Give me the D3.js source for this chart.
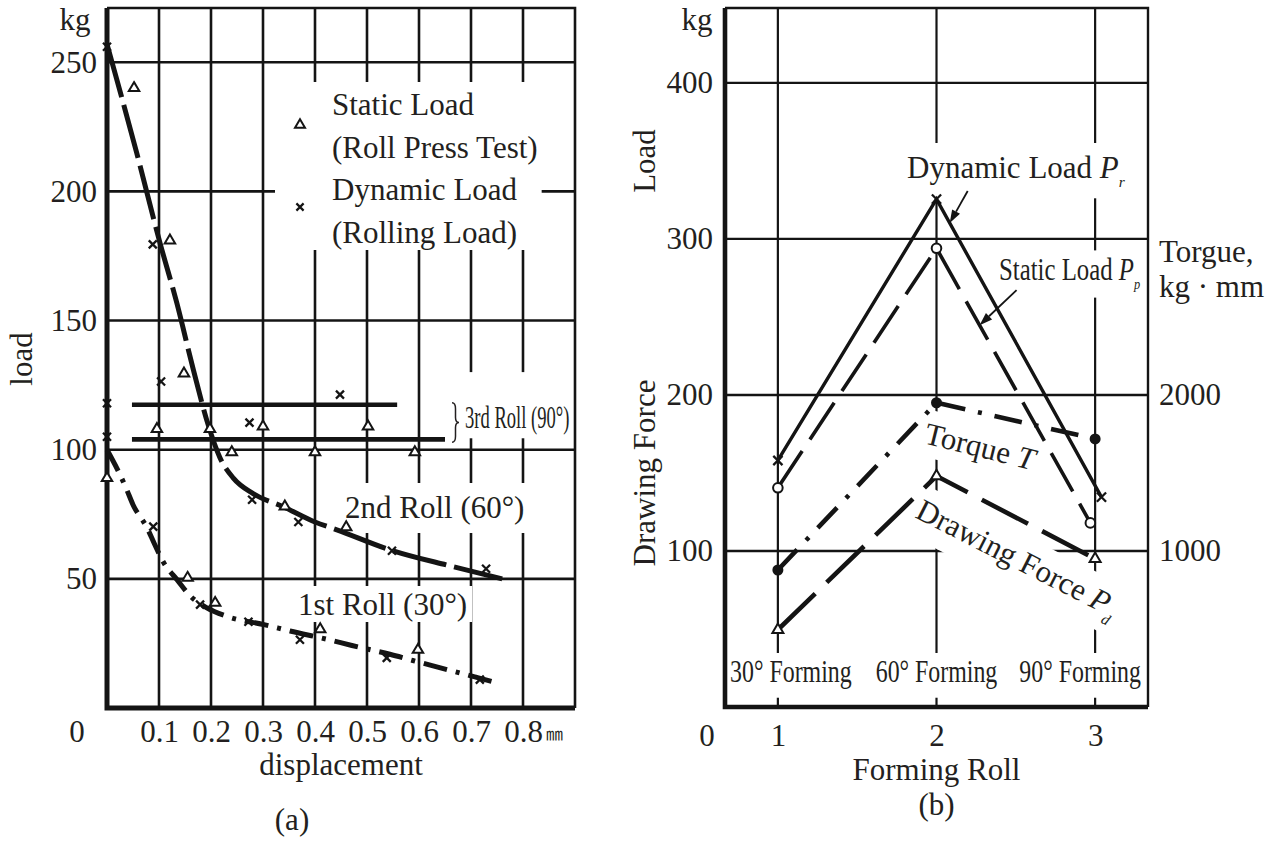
<!DOCTYPE html>
<html><head><meta charset="utf-8">
<script src="https://cdn.jsdelivr.net/npm/d3@7"></script>
<style>
html,body{margin:0;padding:0;background:#fff;}
svg{display:block;}
text{font-family:"Liberation Serif","Times New Roman",serif;fill:#231f20;}
</style></head><body>
<svg id="chart" width="1285" height="845"></svg>
<script>
// ================= DATA : chart (a) =================
const aXTicks = [0.1, 0.2, 0.3, 0.4, 0.5, 0.6, 0.7, 0.8];
const aYTicks = [50, 100, 150, 200, 250];
const aStaticX = [0, 0.052, 0.121, 0.148, 0.096, 0.198, 0.3, 0.24, 0.4, 0.342, 0.155, 0.502, 0.592, 0.46, 0.208, 0.41, 0.598];
const aStaticY = [89, 240, 181, 129.5, 108, 108, 109, 99, 99, 78, 50.4, 109, 99, 70, 40.7, 30.5, 22.5];
const aDynamicX = [0, 0.088, 0.104, 0, 0, 0.274, 0.448, 0.279, 0.368, 0.089, 0.548, 0.729, 0.179, 0.272, 0.371, 0.538, 0.717];
const aDynamicY = [256, 179.5, 126.4, 118, 105, 110.5, 121.3, 80.6, 72, 70.2, 60.9, 53.9, 40, 33.4, 26.4, 19.4, 11];
const aRoll2X = [0, 0.057, 0.102, 0.134, 0.166, 0.194, 0.217, 0.243, 0.281, 0.338, 0.4, 0.442, 0.548, 0.66, 0.76];
const aRoll2Y = [257, 215, 180, 157, 131, 110, 97, 89, 83, 78, 72, 69, 61, 55, 50];
const aRoll1X = [0, 0.021, 0.037, 0.05, 0.077, 0.092, 0.108, 0.135, 0.16, 0.192, 0.233, 0.304, 0.352, 0.425, 0.471, 0.544, 0.588, 0.627, 0.68, 0.755];
const aRoll1Y = [100, 92, 85, 78.7, 69.8, 63.2, 56.6, 49.6, 43.4, 38.8, 35.3, 32.2, 29.8, 26.5, 24.2, 20.8, 18.4, 16.3, 13.5, 9.5];
const aRoll3Y = [117.4, 104];
const aRoll3Start = [0.048, 0.048];
const aRoll3End = [0.558, 0.65];
const aLegend = [["Static Load", "(Roll Press Test)"], ["Dynamic Load", "(Rolling Load)"]];

// ================= DATA : chart (b) =================
const bRolls = [1, 2, 3];
const bYTicks = [100, 200, 300, 400];
const bTorqueTicks = [1000, 2000];
const bFormingLabels = ["30° Forming", "60° Forming", "90° Forming"];
const bDynamicX = [1, 2, 3.04];
const bDynamic = [158, 325.5, 134.5];
const bStaticX = [1, 2, 2.97];
const bStatic = [140.5, 294, 118];
const bTorque = [878, 1950, 1718];
const bDrawing = [49.5, 148, 95];

// ================= helpers =================
const INK = "#141414";
const TXT = "#231f20";
const FS = 31;
const svg = d3.select("#chart");

function layers(parent) {
  return {
    grid: parent.append("g"), knock: parent.append("g"), frame: parent.append("g"),
    data: parent.append("g"), marks: parent.append("g"), text: parent.append("g")
  };
}
function label(L, o) {
  const sx = o.sx || 1, rot = o.rotate || 0, size = o.size || FS;
  const tf = `translate(${o.x},${o.y}) rotate(${rot}) scale(${sx},1)`;
  const g = L.text.append("g").attr("transform", tf);
  const t = g.append("text").attr("text-anchor", o.anchor || "start").attr("font-size", size);
  if (o.family) t.style("font-family", o.family);
  o.parts.forEach(p => {
    const s = t.append("tspan").text(p.t);
    if (p.italic) s.attr("font-style", "italic");
    if (p.sub) s.attr("font-size", size * 0.5).attr("dy", size * 0.3);
  });
  if (o.pad) {
    const b = t.node().getBBox();
    const [pt, pr, pb, pl] = o.pad;
    L.knock.append("rect").attr("transform", tf)
      .attr("x", b.x - pl / sx).attr("y", b.y - pt)
      .attr("width", b.width + (pl + pr) / sx).attr("height", b.height + pt + pb)
      .attr("fill", "#fff");
  }
  return t;
}
const triPath = (w) => { const h = w * 0.85; return `M0,${-h * 2 / 3}L${w / 2},${h / 3}L${-w / 2},${h / 3}Z`; };
const crossPath = (r) => `M${-r},${-r}L${r},${r}M${-r},${r}L${r},${-r}`;
function styleAxis(g) {
  g.select(".domain").remove();
  g.selectAll(".tick line").remove();
  g.selectAll("text").attr("font-size", FS).attr("fill", TXT);
}
function arrow(layer, tip, tail) {
  const dx = tip[0] - tail[0], dy = tip[1] - tail[1];
  const len = Math.hypot(dx, dy), ux = dx / len, uy = dy / len;
  const L = 13, Wd = 4.5;
  const bx0 = tip[0] - ux * L, by0 = tip[1] - uy * L;
  layer.append("line").attr("x1", tail[0]).attr("y1", tail[1]).attr("x2", bx0).attr("y2", by0)
    .attr("stroke", INK).attr("stroke-width", 1.8);
  layer.append("path").attr("d", `M${tip[0]},${tip[1]}L${bx0 - uy * Wd},${by0 + ux * Wd}L${bx0 + uy * Wd},${by0 - ux * Wd}Z`)
    .attr("fill", INK);
}

// ================= chart (a) =================
const ax = d3.scaleLinear().domain([0, 0.9]).range([107, 575]);
const ay = d3.scaleLinear().domain([0, 271]).range([708, 8]);
const A = layers(svg.append("g"));
const [aTop, aBot] = [ay.range()[1], ay.range()[0]];
const [aL, aR] = ax.range();

A.grid.selectAll("line.v").data(aXTicks).join("line")
  .attr("x1", d => ax(d)).attr("x2", d => ax(d)).attr("y1", aTop).attr("y2", aBot)
  .attr("stroke", INK).attr("stroke-width", 2.6);
A.grid.selectAll("line.h").data(aYTicks).join("line")
  .attr("x1", aL).attr("x2", aR).attr("y1", d => ay(d)).attr("y2", d => ay(d))
  .attr("stroke", INK).attr("stroke-width", 2.6);
A.frame.append("path").attr("d", `M${aL},${aTop}H${aR}V${aBot}`)
  .attr("fill", "none").attr("stroke", INK).attr("stroke-width", 2.6);
A.frame.append("path").attr("d", `M${aL},${aTop}V${aBot}H${aR}`)
  .attr("fill", "none").attr("stroke", INK).attr("stroke-width", 5);

// axes tick labels
A.text.append("g").attr("transform", `translate(${aL},0)`)
  .call(d3.axisLeft(ay).tickValues(aYTicks).tickSize(0).tickPadding(10).tickFormat(d3.format("d"))).call(styleAxis);
A.text.append("g").attr("transform", `translate(0,${aBot})`)
  .call(d3.axisBottom(ax).tickValues(aXTicks).tickSize(0).tickPadding(12).tickFormat(d3.format(".1f"))).call(styleAxis);
label(A, { x: 77, y: 742, anchor: "middle", parts: [{ t: "0" }] });
label(A, { x: ax(0.8) + 23, y: 740, size: 17, family: "'Noto Sans CJK JP'", parts: [{ t: "㎜" }] });
label(A, { x: 75, y: 30, anchor: "middle", parts: [{ t: "kg" }] });
label(A, { x: 32, y: 359, rotate: -90, anchor: "middle", parts: [{ t: "load" }] });
label(A, { x: (aL + aR) / 2, y: 775, anchor: "middle", parts: [{ t: "displacement" }] });
label(A, { x: 292, y: 830, anchor: "middle", parts: [{ t: "(a)" }] });

// legend
const legX = 300, legTextX = 332, legBase = [115, 200], legLine = 43;
const legG = A.text.append("g");
aLegend.forEach((lines, i) => {
  lines.forEach((s, j) => legG.append("text").attr("x", legTextX).attr("y", legBase[i] + j * legLine)
    .attr("font-size", FS).text(s));
});
legG.append("path").attr("transform", `translate(${legX},${legBase[0] + 10})`).attr("d", triPath(10))
  .attr("fill", "#fff").attr("stroke", INK).attr("stroke-width", 2);
legG.append("path").attr("transform", `translate(${legX},${legBase[1] + 7})`).attr("d", crossPath(3.6))
  .attr("fill", "none").attr("stroke", INK).attr("stroke-width", 2.2);
{
  const b = legG.node().getBBox();
  A.knock.append("rect").attr("x", b.x - 20).attr("y", b.y - 5).attr("width", b.width + 24).attr("height", b.height + 5).attr("fill", "#fff");
}

// curve labels
label(A, { x: 345, y: 518, parts: [{ t: "2nd Roll (60°)" }], pad: [7, 5, 8, 5] });
label(A, { x: 298, y: 615, parts: [{ t: "1st Roll (30°)" }], pad: [1, 5, 0, 5] });
const braceX = ax(d3.max(aRoll3End)) + 7;
label(A, { x: braceX + 13, y: 428, sx: 0.6, parts: [{ t: "3rd Roll (90°)" }], pad: [28, 2, 3, 22] });
{
  const y0 = ay(aRoll3Y[0]) - 2, y1 = ay(aRoll3Y[1]) + 3, ym = (y0 + y1) / 2, x = braceX, w = 3.5;
  A.text.append("path").attr("d",
    `M${x},${y0}Q${x + w},${y0} ${x + w},${y0 + 6}L${x + w},${ym - 5}Q${x + w},${ym} ${x + 2 * w},${ym}Q${x + w},${ym} ${x + w},${ym + 5}L${x + w},${y1 - 6}Q${x + w},${y1} ${x},${y1}`)
    .attr("fill", "none").attr("stroke", TXT).attr("stroke-width", 1.5);
}

// data curves
const lineA = d3.line().x(d => ax(d[0])).y(d => ay(d[1])).curve(d3.curveMonotoneX);
A.data.append("path").datum(d3.zip(aRoll2X, aRoll2Y)).attr("d", lineA)
  .attr("fill", "none").attr("stroke", INK).attr("stroke-width", 5).attr("stroke-dasharray", "55,8");
A.data.append("path").datum(d3.zip(aRoll1X, aRoll1Y)).attr("d", lineA)
  .attr("fill", "none").attr("stroke", INK).attr("stroke-width", 5).attr("stroke-dasharray", "24,9,4,9");
A.data.selectAll("line.r3").data(aRoll3Y).join("line")
  .attr("x1", (d, i) => ax(aRoll3Start[i])).attr("x2", (d, i) => ax(aRoll3End[i]))
  .attr("y1", d => ay(d)).attr("y2", d => ay(d))
  .attr("stroke", INK).attr("stroke-width", 4.6);

// markers
A.marks.selectAll("path.st").data(d3.zip(aStaticX, aStaticY)).join("path")
  .attr("transform", d => `translate(${ax(d[0])},${ay(d[1])})`).attr("d", triPath(10.5))
  .attr("fill", "#fff").attr("stroke", INK).attr("stroke-width", 2);
A.marks.selectAll("path.dy").data(d3.zip(aDynamicX, aDynamicY)).join("path")
  .attr("transform", d => `translate(${ax(d[0])},${ay(d[1])})`).attr("d", crossPath(4))
  .attr("fill", "none").attr("stroke", INK).attr("stroke-width", 2.3);

// ================= chart (b) =================
const bx = d3.scaleLinear().domain([2 / 3, 10 / 3]).range([725, 1148]);
const by = d3.scaleLinear().domain([0, 448]).range([707, 8]);
const bt = d3.scaleLinear().domain([0, 4480]).range([707, 8]);
const B = layers(svg.append("g"));
const [bTop, bBot] = [by.range()[1], by.range()[0]];
const [bL, bR] = bx.range();

B.grid.selectAll("line.v").data(bRolls).join("line")
  .attr("x1", d => bx(d)).attr("x2", d => bx(d)).attr("y1", bTop).attr("y2", bBot)
  .attr("stroke", INK).attr("stroke-width", 2.2);
B.grid.selectAll("line.h").data(bYTicks).join("line")
  .attr("x1", bL).attr("x2", bR).attr("y1", d => by(d)).attr("y2", d => by(d))
  .attr("stroke", INK).attr("stroke-width", 2.4);
B.frame.append("path").attr("d", `M${bL},${bTop}H${bR}V${bBot}`)
  .attr("fill", "none").attr("stroke", INK).attr("stroke-width", 2.4);
B.frame.append("path").attr("d", `M${bL},${bTop}V${bBot}H${bR}`)
  .attr("fill", "none").attr("stroke", INK).attr("stroke-width", 4.6);

B.text.append("g").attr("transform", `translate(${bL},0)`)
  .call(d3.axisLeft(by).tickValues(bYTicks).tickSize(0).tickPadding(12).tickFormat(d3.format("d"))).call(styleAxis);
B.text.append("g").attr("transform", `translate(${bR},0)`)
  .call(d3.axisRight(bt).tickValues(bTorqueTicks).tickSize(0).tickPadding(11).tickFormat(d3.format("d"))).call(styleAxis);
B.text.append("g").attr("transform", `translate(0,${bBot})`)
  .call(d3.axisBottom(bx).tickValues(bRolls).tickSize(0).tickPadding(17).tickFormat(d3.format("d"))).call(styleAxis);
label(B, { x: 707, y: 746, anchor: "middle", parts: [{ t: "0" }] });
label(B, { x: 697, y: 30, anchor: "middle", parts: [{ t: "kg" }] });
label(B, { x: 655, y: 161, rotate: -90, anchor: "middle", parts: [{ t: "Load" }] });
label(B, { x: 655, y: 473, rotate: -90, anchor: "middle", parts: [{ t: "Drawing Force" }] });
label(B, { x: bR + 11, y: 262, parts: [{ t: "Torgue," }] });
label(B, { x: bR + 11, y: 297, parts: [{ t: "kg · mm" }] });
label(B, { x: (bL + bR) / 2, y: 780, anchor: "middle", parts: [{ t: "Forming Roll" }] });
label(B, { x: bx(2), y: 815, anchor: "middle", parts: [{ t: "(b)" }] });

const formOffset = [13, 0, -15];
bFormingLabels.forEach((s, i) => label(B, {
  x: bx(bRolls[i]) + formOffset[i], y: 682, anchor: "middle", sx: 0.77, parts: [{ t: s }], pad: [1, 3, 9, 3]
}));

label(B, { x: 907, y: 178, parts: [{ t: "Dynamic Load " }, { t: "P", italic: true }, { t: "r", italic: true, sub: true }], pad: [7, 4, 8, 4] });
label(B, { x: 999, y: 280, sx: 0.8, parts: [{ t: "Static Load " }, { t: "P", italic: true }, { t: "p", italic: true, sub: true }], pad: [2, 3, 5, 3] });
label(B, { x: 923, y: 443, rotate: 14, parts: [{ t: "Torque " }, { t: "T", italic: true }], pad: [6, 6, 6, 6] });
label(B, { x: 914, y: 517, rotate: 27, parts: [{ t: "Drawing Force " }, { t: "P", italic: true }, { t: "d", italic: true, sub: true }], pad: [6, 6, 6, 6] });

// lines
const lineB = d3.line();
const ptsDyn = d3.zip(bDynamicX, bDynamic).map(d => [bx(d[0]), by(d[1])]);
const ptsSta = d3.zip(bStaticX, bStatic).map(d => [bx(d[0]), by(d[1])]);
const ptsTor = d3.zip(bRolls, bTorque).map(d => [bx(d[0]), bt(d[1])]);
const ptsDra = d3.zip(bRolls, bDrawing).map(d => [bx(d[0]), by(d[1])]);
B.data.append("path").attr("d", lineB(ptsDyn)).attr("fill", "none").attr("stroke", INK).attr("stroke-width", 3.4);
B.data.append("path").attr("d", lineB(ptsSta)).attr("fill", "none").attr("stroke", INK).attr("stroke-width", 3.6).attr("stroke-dasharray", "44,14");
B.data.append("path").attr("d", lineB(ptsTor)).attr("fill", "none").attr("stroke", INK).attr("stroke-width", 4.6).attr("stroke-dasharray", "28,13,4,13");
B.data.append("path").attr("d", lineB(ptsDra)).attr("fill", "none").attr("stroke", INK).attr("stroke-width", 4.6).attr("stroke-dasharray", "52,16");

// arrows to lines
{
  const tip = d3.interpolate(ptsDyn[1], ptsDyn[2])(0.08);
  arrow(B.text, tip, [tip[0] + 18, tip[1] - 32]);
}
{
  const tip = d3.interpolate(ptsSta[1], ptsSta[2])(0.28);
  arrow(B.text, tip, [tip[0] + 37, tip[1] - 35]);
}

// markers
B.marks.selectAll("path.dy").data(ptsDyn).join("path").attr("transform", d => `translate(${d[0]},${d[1]})`)
  .attr("d", crossPath(4.6)).attr("fill", "none").attr("stroke", INK).attr("stroke-width", 2.3);
B.marks.selectAll("circle.st").data(ptsSta).join("circle").attr("cx", d => d[0]).attr("cy", d => d[1]).attr("r", 4.8)
  .attr("fill", "#fff").attr("stroke", INK).attr("stroke-width", 2);
B.marks.selectAll("circle.to").data(ptsTor).join("circle").attr("cx", d => d[0]).attr("cy", d => d[1]).attr("r", 5.5)
  .attr("fill", INK);
B.marks.selectAll("path.dr").data(ptsDra).join("path").attr("transform", d => `translate(${d[0]},${d[1]})`)
  .attr("d", triPath(11)).attr("fill", "#fff").attr("stroke", INK).attr("stroke-width", 2);
</script>
</body></html>
